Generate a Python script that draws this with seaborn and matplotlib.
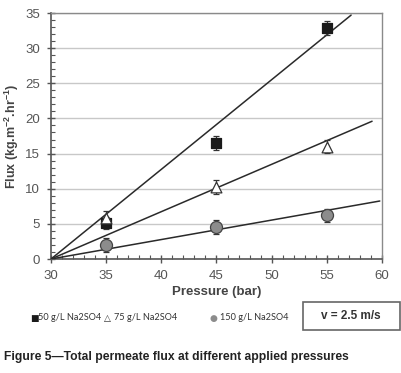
import numpy as np
import pandas as pd
import matplotlib
matplotlib.use("Agg")
import matplotlib.pyplot as plt
import seaborn as sns
from matplotlib.ticker import MultipleLocator
from matplotlib.patches import Rectangle

# ---- data ----
pressure = [35, 45, 55]
flux_50 = [5.1, 16.5, 32.8]
flux_75 = [5.8, 10.2, 16.0]
flux_150 = [2.0, 4.6, 6.2]
err_50 = [0.9, 1.0, 1.0]
err_75 = [1.0, 1.0, 0.9]
err_150 = [1.0, 1.0, 0.9]
series_labels = ["50 g/L Na2SO4", "75 g/L Na2SO4", "150 g/L Na2SO4"]
# trend lines (start at 30 bar, zero flux) end points
trend_start = [30, 0]
trend_end_x = [57.2, 59.1, 59.8]
trend_end_y = [34.7, 19.6, 8.25]
x_ticks = [30, 35, 40, 45, 50, 55, 60]
y_ticks = [0, 5, 10, 15, 20, 25, 30, 35]

sns.set_theme(style="white")
plt.rcParams['font.family'] = ['Liberation Sans', 'DejaVu Sans']
plt.rcParams['mathtext.fontset'] = 'custom'
plt.rcParams['mathtext.rm'] = 'Liberation Sans'
plt.rcParams['mathtext.bf'] = 'Liberation Sans:bold'

fig = plt.figure(figsize=(4.02, 3.73), dpi=100)
ax = fig.add_axes([51/402, 1 - 259/373, (382-51)/402, (259-13)/373])

rows = []
for lab, fl, er in zip(series_labels, [flux_50, flux_75, flux_150], [err_50, err_75, err_150]):
    for p, f, e in zip(pressure, fl, er):
        rows.append(dict(series=lab, pressure=p, flux=f, err=e))
df = pd.DataFrame(rows)

# gridlines
ax.set_xlim(x_ticks[0], x_ticks[-1])
ax.set_ylim(y_ticks[0], y_ticks[-1])
ax.set_xticks(x_ticks)
ax.set_yticks(y_ticks)
ax.yaxis.grid(True, color="#c8c8c8", linewidth=1.0)
ax.xaxis.grid(False)
ax.set_axisbelow(True)

# trend lines
for ex, ey in zip(trend_end_x, trend_end_y):
    tl = pd.DataFrame({"x": [trend_start[0], ex], "y": [trend_start[1], ey]})
    sns.lineplot(data=tl, x="x", y="y", ax=ax, color="#2a2a2a", linewidth=1.1, zorder=3)

# error bars
for lab in series_labels:
    d = df[df.series == lab]
    ax.errorbar(d.pressure, d.flux, yerr=d.err, fmt="none", ecolor="#333333",
                elinewidth=0.9, capsize=2.5, capthick=0.9, zorder=4)

styles = {
    series_labels[0]: dict(marker="s", s=45, color="#1a1a1a", edgecolor="#1a1a1a"),
    series_labels[1]: dict(marker="^", s=60, color="white", edgecolor="#333333"),
    series_labels[2]: dict(marker="o", s=75, color="#8c8c8c", edgecolor="#444444"),
}
for lab in series_labels:
    d = df[df.series == lab]
    st = styles[lab]
    sns.scatterplot(data=d, x="pressure", y="flux", ax=ax, marker=st["marker"], s=st["s"],
                    color=st["color"], edgecolor=st["edgecolor"], linewidth=0.9, zorder=5,
                    legend=False)

# spines
for side in ["top", "right"]:
    ax.spines[side].set_color("#8a8a8a")
    ax.spines[side].set_linewidth(1.0)
for side in ["left", "bottom"]:
    ax.spines[side].set_color("#555555")
    ax.spines[side].set_linewidth(1.2)

ax.xaxis.set_minor_locator(MultipleLocator(1))
ax.yaxis.set_minor_locator(MultipleLocator(1))
ax.tick_params(which="major", direction="inout", length=6, width=1, color="#555555",
               labelsize=9.5, labelcolor="#555555", bottom=True, left=True, pad=5)
ax.tick_params(which="minor", direction="in", length=3, width=0.8, color="#555555",
               bottom=True, left=True)

ax.set_xlabel("Pressure (bar)", fontsize=9.5, fontweight="bold", color="#444444", labelpad=3)
ax.set_ylabel(r"Flux (kg.m$^{\mathbf{-2}}$.hr$^{\mathbf{-1}}$)", fontsize=9, fontweight="bold",
              color="#444444", labelpad=3)

# legend row (custom, below the chart)
leg_y = 1 - 318/373
fs_leg = 6.6
fs_sym = 6.5
fig.text(30/402, leg_y, "\u25A0", fontsize=fs_sym, color="#1a1a1a", va="center", ha="left",
         family=["DejaVu Sans"])
fig.text(38/402, leg_y, series_labels[0], fontsize=fs_leg, color="#333333", va="center", ha="left",
         family=["Lato"])
fig.text(104/402, leg_y, "\u25B3", fontsize=fs_sym, color="#333333", va="center", ha="left",
         family=["DejaVu Sans"])
fig.text(114/402, leg_y, series_labels[1], fontsize=fs_leg, color="#333333", va="center", ha="left",
         family=["Lato"])
fig.text(210/402, leg_y, "\u25CF", fontsize=fs_sym, color="#8c8c8c", va="center", ha="left",
         family=["DejaVu Sans"])
fig.text(220/402, leg_y, series_labels[2], fontsize=fs_leg, color="#333333", va="center", ha="left",
         family=["Lato"])

# velocity box
fig.patches.append(Rectangle((303/402, 1 - 330/373), 97/402, 28/373, transform=fig.transFigure,
                             facecolor="white", edgecolor="#666666", linewidth=1.2))
fig.text(351/402, 1 - 316/373, "v = 2.5 m/s", fontsize=8.5, fontweight="bold", color="#333333",
         va="center", ha="center")

# caption
fig.text(4/402, 1 - 357/373, "Figure 5\u2014Total permeate flux at different applied pressures",
         fontsize=8.7, fontweight="bold", color="#222222", va="center", ha="left")

fig.savefig("out.png", dpi=100, facecolor="white")
